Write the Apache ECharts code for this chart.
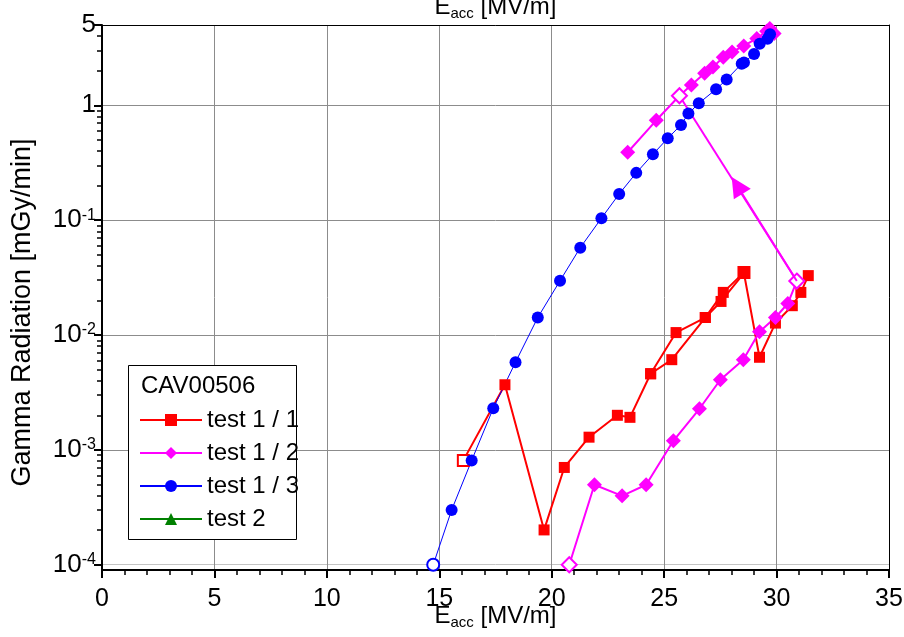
<!DOCTYPE html>
<html>
<head>
<meta charset="utf-8">
<script src="https://cdn.jsdelivr.net/npm/echarts@6/dist/echarts.min.js"></script>
<style>
  html, body { margin: 0; padding: 0; background: #ffffff; }
  #chart { width: 904px; height: 637px; }
</style>
</head>
<body>
<div id="chart"></div>
<script>
// CAV00506 — gamma dose rate versus accelerating gradient for several field sweeps.

// test 1 / 1, first sweep (starts and ends on hollow squares)
const eTest11a = [16.07, 17.92, 19.66, 20.56, 21.66, 22.92, 23.48, 24.40, 25.53, 26.83, 27.63, 28.55];
const gTest11a = [8.1e-4, 3.69e-3, 2.01e-4, 7.03e-4, 1.29e-3, 2.0e-3, 1.92e-3, 4.6e-3, 1.05e-2, 1.42e-2, 2.35e-2, 3.51e-2];
const openTest11a = [0, 11];
// test 1 / 1, second sweep
const eTest11b = [24.40, 25.34, 26.83, 27.53, 28.55, 29.24, 29.95, 30.70, 31.08, 31.41];
const gTest11b = [4.6e-3, 6.1e-3, 1.42e-2, 1.96e-2, 3.45e-2, 6.4e-3, 1.27e-2, 1.80e-2, 2.35e-2, 3.29e-2];
const openTest11b = [];

// test 1 / 2, first sweep
const eTest12a = [20.78, 21.90, 23.13, 24.20, 25.41, 26.57, 27.50, 28.52, 29.24, 29.95, 30.50, 30.90];
const gTest12a = [1.0e-4, 4.97e-4, 3.98e-4, 4.97e-4, 1.2e-3, 2.28e-3, 4.08e-3, 6.1e-3, 1.07e-2, 1.42e-2, 1.88e-2, 2.95e-2];
const openTest12a = [0, 11];
// test 1 / 2, jump between the sweeps (arrow marks the direction)
const eJump = [30.90, 25.68];
const gJump = [2.95e-2, 1.21];
const jumpArrow = [[30.90, 2.95e-2], [28.24, 0.20]];
// test 1 / 2, second sweep
const eTest12b = [23.38, 24.65, 25.68, 26.21, 26.80, 27.17, 27.63, 28.02, 28.54, 29.12, 29.56, 29.70, 29.89];
const gTest12b = [0.39, 0.74, 1.21, 1.50, 1.90, 2.15, 2.62, 2.91, 3.29, 3.82, 4.41, 4.65, 4.21];
const openTest12b = [2];

// test 1 / 3
const eTest13 = [14.73, 15.55, 16.44, 17.40, 18.39, 19.38, 20.37, 21.27, 22.21, 23.00, 23.76, 24.50, 25.16, 25.75, 26.08, 26.54, 27.31, 27.78, 28.45, 28.55, 29.00, 29.25, 29.60, 29.71];
const gTest13 = [1.0e-4, 3.0e-4, 8.1e-4, 2.3e-3, 5.8e-3, 1.42e-2, 2.97e-2, 5.76e-2, 0.104, 0.169, 0.258, 0.374, 0.516, 0.675, 0.847, 1.04, 1.38, 1.68, 2.30, 2.36, 2.80, 3.44, 3.80, 4.15];
const openTest13 = [0];

// test 2 (no points recorded)
const eTest2 = [];
const gTest2 = [];

// axis ticks
const xTicks = [0, 5, 10, 15, 20, 25, 30, 35];
const yMajorTicks = [1e-4, 1e-3, 1e-2, 1e-1, 1, 5];
const yMin = 9e-5;
const yMax = 5;

const seriesNames = ['test 1 / 1', 'test 1 / 2', 'test 1 / 3', 'test 2'];

const RED = '#ff0000', MAGENTA = '#ff00ff', BLUE = '#0000ff', GREEN = '#008000';
const FONT = '"Liberation Sans", Arial, sans-serif';

function pairs(es, gs, openIdx, color) {
  return es.map((e, i) => openIdx.includes(i)
    ? { value: [e, gs[i]], itemStyle: { color: '#ffffff', borderColor: color, borderWidth: 2 } }
    : [e, gs[i]]);
}

// minor ticks of the logarithmic axis: 2..9 within each decade
const yMinorTicks = [];
for (let d = -4; d <= 0; d++) {
  for (let k = 2; k <= 9; k++) {
    const v = k * Math.pow(10, d);
    if (v < yMax) yMinorTicks.push(+v.toPrecision(3));
  }
}

function yLabel(v) {
  if (Math.abs(v - 5) < 1e-9) return '{b|5}';
  const n = Math.round(Math.log10(v));
  if (Math.abs(Math.log10(v) - n) > 1e-6) return '';
  if (n === 0) return '{b|1}';
  return '{b|10}{s|' + n + '}';
}

const accName = '{a|E}{u|acc}{a| [MV/m]}';
const accRich = {
  a: { fontSize: 24, fontFamily: FONT, color: '#000', lineHeight: 26, verticalAlign: 'top' },
  u: { fontSize: 15, fontFamily: FONT, color: '#000', lineHeight: 16, padding: [14, 0, 0, 0], verticalAlign: 'bottom' }
};

function lineSeries(name, data, color, width, symbol, size, extra) {
  return Object.assign({
    name: name,
    type: 'line',
    data: data,
    color: color,
    symbol: symbol,
    symbolSize: size,
    showAllSymbol: true,
    lineStyle: { color: color, width: width },
    itemStyle: { color: color },
    emphasis: { disabled: true },
    animation: false,
    z: 3
  }, extra || {});
}

const chart = echarts.init(document.getElementById('chart'), null, { renderer: 'canvas' });

chart.setOption({
  backgroundColor: '#ffffff',
  animation: false,
  grid: { left: 102, right: 15, top: 25, bottom: 67, containLabel: false, outerBoundsMode: 'none' },
  xAxis: [
    {
      type: 'value', position: 'bottom', min: xTicks[0], max: xTicks[xTicks.length - 1], interval: 5,
      axisLine: { show: true, onZero: false, lineStyle: { color: '#000', width: 2 } },
      axisTick: { show: true, inside: false, length: 8, lineStyle: { color: '#000', width: 2 } },
      minorTick: { show: true, splitNumber: 5, length: 5, lineStyle: { color: '#000', width: 1.5 } },
      axisLabel: { fontSize: 25, fontFamily: FONT, color: '#000', margin: 17 },
      splitLine: { show: true, lineStyle: { color: '#8c8c8c', width: 1 } },
      name: accName, nameLocation: 'middle', nameGap: 34, nameMoveOverlap: false,
      nameTextStyle: { rich: accRich }
    },
    {
      type: 'value', position: 'top', min: xTicks[0], max: xTicks[xTicks.length - 1],
      axisLine: { show: true, onZero: false, lineStyle: { color: '#000', width: 1 } },
      axisTick: { show: false }, axisLabel: { show: false }, splitLine: { show: false },
      name: accName, nameLocation: 'middle', nameGap: 4, nameMoveOverlap: false,
      nameTextStyle: { rich: accRich }
    }
  ],
  yAxis: [
    {
      type: 'log', logBase: 10, min: yMin, max: yMax, position: 'left',
      axisLine: { show: true, onZero: false, lineStyle: { color: '#000', width: 2 } },
      axisTick: { show: true, inside: false, length: 8, customValues: yMajorTicks, lineStyle: { color: '#000', width: 2 } },
      axisLabel: {
        customValues: yMajorTicks, margin: 6, formatter: yLabel,
        rich: {
          b: { fontSize: 26, fontFamily: FONT, color: '#000', lineHeight: 26, verticalAlign: 'bottom' },
          s: { fontSize: 16, fontFamily: FONT, color: '#000', lineHeight: 16, padding: [0, 0, 14, 0], verticalAlign: 'top' }
        }
      },
      splitLine: { show: true, lineStyle: { color: ['#c4c4c4', '#8c8c8c', '#8c8c8c', '#8c8c8c', '#8c8c8c', '#8c8c8c'], width: 1 } },
      name: 'Gamma Radiation [mGy/min]', nameLocation: 'middle', nameGap: 66, nameRotate: 90, nameMoveOverlap: false,
      nameTextStyle: { fontSize: 27, fontFamily: FONT, color: '#000', padding: [0, 30, 0, 0] }
    },
    {
      type: 'log', logBase: 10, min: yMin, max: yMax, position: 'left',
      axisLine: { show: false },
      axisTick: { show: true, inside: false, length: 5, customValues: yMinorTicks, lineStyle: { color: '#000', width: 1.5 } },
      axisLabel: { show: false }, splitLine: { show: false }
    },
    {
      type: 'log', logBase: 10, min: yMin, max: yMax, position: 'right',
      axisLine: { show: true, onZero: false, lineStyle: { color: '#000', width: 1 } },
      axisTick: { show: false }, axisLabel: { show: false }, splitLine: { show: false }
    }
  ],
  legend: {
    data: seriesNames,
    orient: 'vertical', left: 139, top: 408, padding: 0,
    itemWidth: 62, itemHeight: 15, itemGap: 9,
    textStyle: { fontSize: 24, fontFamily: FONT, color: '#000' },
    selectedMode: false, z: 6
  },
  graphic: [
    { type: 'rect', z: 5, shape: { x: 128.5, y: 365.5, width: 168, height: 174 },
      style: { fill: '#ffffff', stroke: '#000', lineWidth: 1 } },
    { type: 'text', z: 6, x: 141, y: 386,
      style: { text: 'CAV00506', fontSize: 24, fontFamily: FONT, fill: '#000', verticalAlign: 'middle' } }
  ],
  series: [
    lineSeries('test 1 / 1', pairs(eTest11a, gTest11a, openTest11a, RED), RED, 2, 'rect', 11),
    lineSeries('test 1 / 1', pairs(eTest11b, gTest11b, openTest11b, RED), RED, 2, 'rect', 11),
    lineSeries('test 1 / 2', pairs(eTest12a, gTest12a, openTest12a, MAGENTA), MAGENTA, 2, 'diamond', 15),
    lineSeries('test 1 / 2', eJump.map((e, i) => [e, gJump[i]]), MAGENTA, 2, 'none', 0, {
      markLine: {
        silent: true, symbol: ['none', 'triangle'], symbolSize: 20, animation: false,
        label: { show: false },
        lineStyle: { color: MAGENTA, width: 2, type: 'solid' },
        data: [[{ coord: jumpArrow[0] }, { coord: jumpArrow[1] }]]
      }
    }),
    lineSeries('test 1 / 2', pairs(eTest12b, gTest12b, openTest12b, MAGENTA), MAGENTA, 2, 'diamond', 15),
    lineSeries('test 1 / 3', pairs(eTest13, gTest13, openTest13, BLUE), BLUE, 1, 'circle', 12),
    lineSeries('test 2', eTest2.map((e, i) => [e, gTest2[i]]), GREEN, 1, 'triangle', 12)
  ]
});
</script>
</body>
</html>
